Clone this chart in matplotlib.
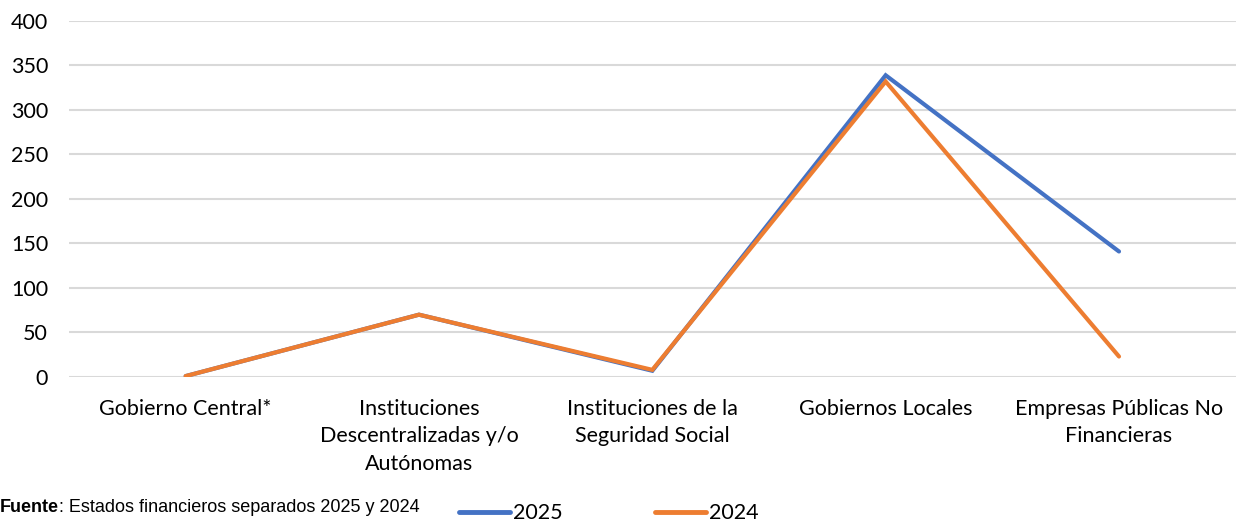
import matplotlib.pyplot as plt
from matplotlib.lines import Line2D

categories = ["Gobierno Central*",
              "Instituciones\nDescentralizadas y/o\nAutónomas",
              "Instituciones de la\nSeguridad Social",
              "Gobiernos Locales",
              "Empresas Públicas No\nFinancieras"]
serie_2025 = [1, 70, 7, 339, 141]
serie_2024 = [1, 70, 8, 332, 23]
yticks = [0, 50, 100, 150, 200, 250, 300, 350, 400]

blue = "#4472C4"
orange = "#ED7D31"
tick_font = ["Lato", "DejaVu Sans"]
note_font = ["Liberation Sans", "DejaVu Sans"]

fig = plt.figure(figsize=(12.43, 5.26), dpi=100)
ax = fig.add_axes([0.0555, 0.2833, 0.9386, 0.6768])

x = list(range(len(categories)))
ax.plot(x, serie_2025, color=blue, lw=3, solid_capstyle="round", solid_joinstyle="miter", zorder=3)
ax.plot(x, serie_2024, color=orange, lw=3, solid_capstyle="round", solid_joinstyle="miter", zorder=4)

ax.set_xlim(-0.5, len(categories) - 0.5)
ax.set_ylim(0, 400)
ax.set_yticks(yticks)
ax.set_xticks(x)
ax.set_xticklabels(categories, fontsize=15.5, family=tick_font, linespacing=1.45)
for lab in ax.get_yticklabels():
    lab.set_fontsize(15.5)
    lab.set_family(tick_font)
ax.tick_params(axis="both", length=0, colors="black")
ax.tick_params(axis="x", pad=16)
ax.tick_params(axis="y", pad=15)
ax.grid(axis="y", color="#D9D9D9", lw=1.5)
ax.set_axisbelow(True)
for s in ax.spines.values():
    s.set_visible(False)

# source note: bold "Fuente" followed by plain text
t1 = fig.text(0.0, 0.036, "Fuente", fontsize=13, family=note_font,
              fontweight="bold", ha="left", va="center")
fig.canvas.draw()
bb = t1.get_window_extent()
fig.text(bb.x1 / fig.bbox.width, 0.036, ": Estados financieros separados 2025 y 2024",
         fontsize=13, family=note_font, ha="left", va="center")

handles = [Line2D([0], [0], color=blue, lw=3.5, solid_capstyle="round"),
           Line2D([0], [0], color=orange, lw=3.5, solid_capstyle="round")]
fig.legend(handles, ["2025", "2024"], loc="center", bbox_to_anchor=(0.49, 0.024),
           ncol=2, frameon=False, handlelength=2.35, handletextpad=0.15,
           columnspacing=4.3, prop={"family": tick_font, "size": 15.5})

fig.savefig("out.png", dpi=100)
